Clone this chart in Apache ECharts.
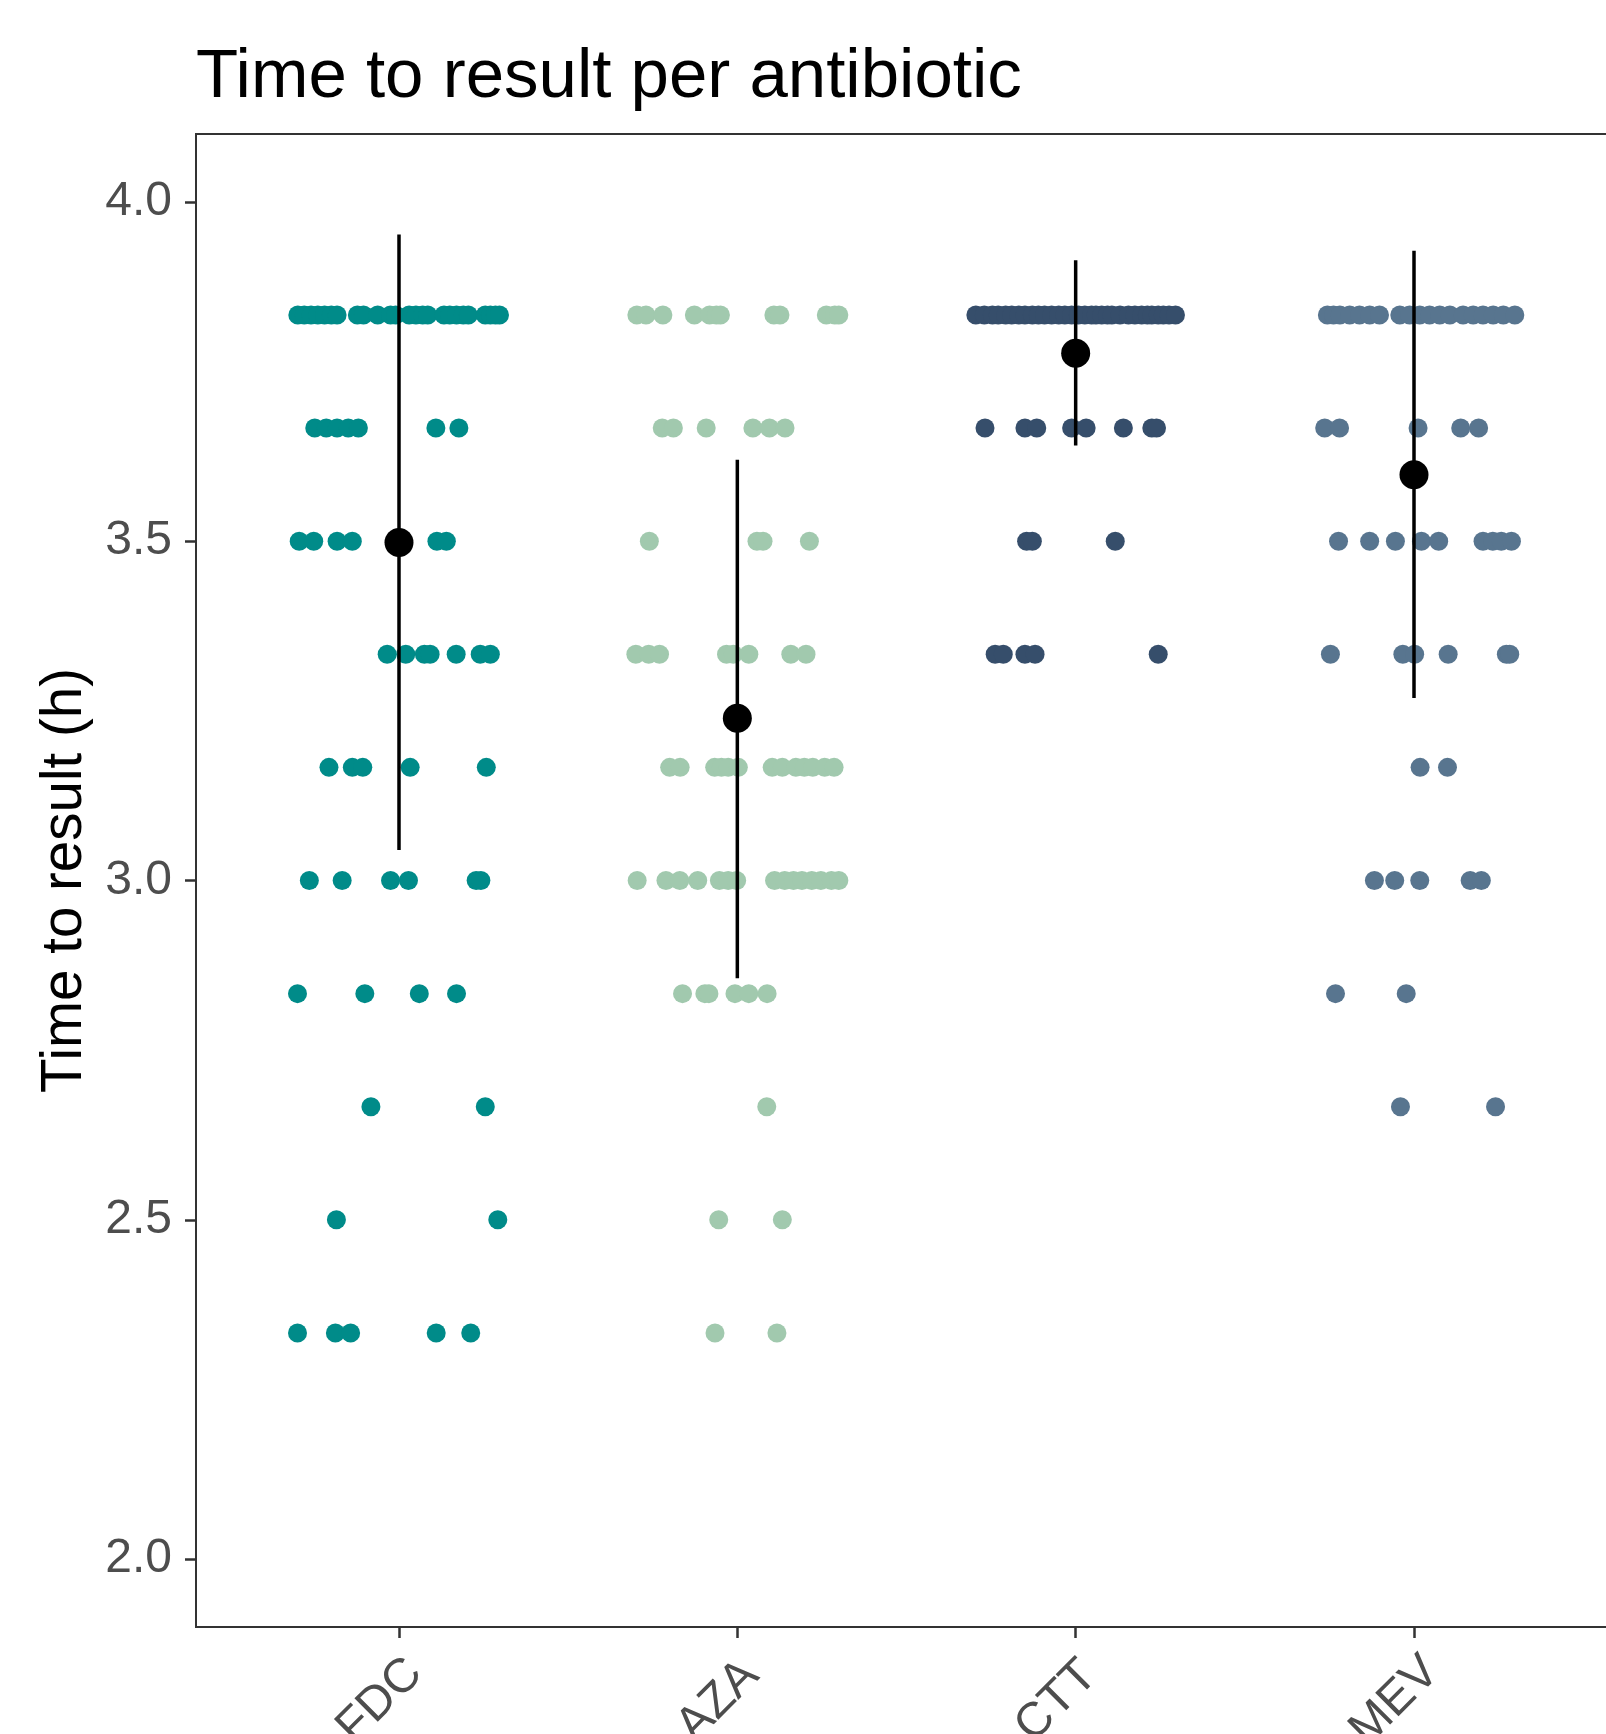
<!DOCTYPE html>
<html><head><meta charset="utf-8">
<script src="https://cdn.jsdelivr.net/npm/echarts@6/dist/echarts.min.js"></script>
<style>html,body{margin:0;padding:0;background:#fff}#c{width:1606px;height:1734px}</style>
</head><body><div id="c"></div><script>
const categories = ['FDC', 'AZA', 'CTT', 'MEV'];
const groupColors = ['#008B89', '#A1C9AE', '#364E6B', '#58758F'];
const levels = [3.8333, 3.6667, 3.5, 3.3333, 3.1667, 3.0, 2.8333, 2.6667, 2.5, 2.3333];
const yTicks = [2.0, 2.5, 3.0, 3.5, 4.0];

// jitter offsets (category units) of each point, one list per level above
const fdcJitter = [
  [-0.299, -0.28, -0.26, -0.24, -0.22, -0.2, -0.183, -0.123, -0.105, -0.063, -0.025, -0.01, 0.03, 0.05, 0.07, 0.085, 0.133, 0.15, 0.17, 0.19, 0.205, 0.255, 0.27, 0.285, 0.297],
  [-0.249, -0.215, -0.183, -0.15, -0.12, 0.109, 0.177],
  [-0.295, -0.252, -0.183, -0.138, 0.112, 0.14],
  [-0.035, 0.02, 0.075, 0.092, 0.169, 0.24, 0.27],
  [-0.207, -0.138, -0.107, 0.033, 0.258],
  [-0.265, -0.168, -0.025, 0.028, 0.228, 0.242],
  [-0.3, -0.101, 0.06, 0.17],
  [-0.083, 0.255],
  [-0.185, 0.292],
  [-0.3, -0.188, -0.143, 0.11, 0.212]
];
const azaJitter = [
  [-0.297, -0.27, -0.22, -0.127, -0.082, -0.062, -0.05, 0.108, 0.126, 0.263, 0.288, 0.3],
  [-0.222, -0.189, -0.092, 0.046, 0.095, 0.141],
  [-0.26, 0.058, 0.076, 0.213],
  [-0.3, -0.262, -0.23, -0.032, -0.012, 0.034, 0.158, 0.203],
  [-0.2, -0.169, -0.067, -0.047, -0.027, 0.003, 0.103, 0.133, 0.173, 0.198, 0.223, 0.258, 0.286],
  [-0.296, -0.211, -0.17, -0.117, -0.053, -0.027, -0.002, 0.11, 0.14, 0.166, 0.191, 0.22, 0.247, 0.278, 0.3],
  [-0.162, -0.096, -0.084, -0.007, 0.034, 0.088],
  [0.087],
  [-0.055, 0.133],
  [-0.066, 0.117]
];
const cttJitter = [
  [-0.295, -0.27, -0.246, -0.229, -0.207, -0.189, -0.168, -0.15, -0.128, -0.11, -0.092, -0.071, -0.05, -0.032, -0.012, 0.008, 0.027, 0.047, 0.06, 0.077, 0.094, 0.107, 0.131, 0.156, 0.175, 0.195, 0.212, 0.225, 0.244, 0.259, 0.276, 0.295],
  [-0.268, -0.15, -0.115, -0.012, 0.031, 0.141, 0.225, 0.239],
  [-0.145, -0.128, 0.117],
  [-0.238, -0.214, -0.15, -0.12, 0.244],
  [], [], [], [], [], []
];
const mevJitter = [
  [-0.256, -0.238, -0.219, -0.19, -0.161, -0.131, -0.102, -0.042, -0.013, 0.017, 0.046, 0.076, 0.106, 0.145, 0.175, 0.204, 0.234, 0.264, 0.298],
  [-0.264, -0.22, 0.012, 0.138, 0.191],
  [-0.223, -0.131, -0.055, 0.022, 0.073, 0.204, 0.233, 0.258, 0.288],
  [-0.247, -0.033, 0.002, 0.101, 0.273, 0.283],
  [0.018, 0.099],
  [-0.117, -0.057, 0.017, 0.166, 0.199],
  [-0.232, -0.023],
  [-0.04, 0.241],
  [], []
];
const means = [3.498, 3.239, 3.777, 3.598];
const lows  = [3.045, 2.856, 3.641, 3.269];
const highs = [3.952, 3.62, 3.914, 3.928];

const FONT = "'Liberation Sans', Arial, Helvetica, sans-serif";
const jitters = [fdcJitter, azaJitter, cttJitter, mevJitter];

const pointSeries = jitters.map((rows, gi) => {
  const data = [];
  rows.forEach((offs, li) => offs.forEach(o => data.push([gi + 1 + o, levels[li]])));
  return {
    type: 'scatter', name: categories[gi], data: data, symbolSize: 19,
    itemStyle: { color: groupColors[gi], opacity: 1 }, z: 2, silent: true
  };
});

const chart = echarts.init(document.getElementById('c'), null, { renderer: 'canvas' });
chart.setOption({
  animation: false,
  backgroundColor: '#ffffff',
  title: {
    text: 'Time to result per antibiotic', left: 191, top: 38,
    textStyle: { fontFamily: FONT, fontSize: 69, fontWeight: 'normal', color: '#000', lineHeight: 69 }
  },
  grid: {
    left: 196, top: 134, width: 1421, height: 1493,
    show: true, borderColor: '#333333', borderWidth: 2, backgroundColor: 'transparent',
    containLabel: false, outerBoundsMode: 'none'
  },
  xAxis: {
    type: 'value', min: 0.4, max: 4.6,
    axisLine: { show: false },
    splitLine: { show: false },
    axisTick: { show: true, length: 11, customValues: [1, 2, 3, 4], lineStyle: { color: '#333333', width: 2.5 } },
    axisLabel: {
      customValues: [1, 2, 3, 4],
      formatter: v => categories[Math.round(v) - 1] || '',
      rotate: 45, align: 'center', verticalAlign: 'middle', margin: 55, padding: [0, 54, 0, 0],
      fontFamily: FONT, fontSize: 48, color: '#4D4D4D'
    }
  },
  yAxis: {
    type: 'value', min: 1.9, max: 4.1,
    name: 'Time to result (h)', nameLocation: 'middle', nameGap: 101, nameRotate: 90,
    nameTextStyle: { fontFamily: FONT, fontSize: 56.5, color: '#000' },
    axisLine: { show: false },
    splitLine: { show: false },
    axisTick: { show: true, length: 11, customValues: yTicks, lineStyle: { color: '#333333', width: 2.5 } },
    axisLabel: {
      customValues: yTicks,
      formatter: v => Number(v).toFixed(1),
      margin: 24, fontFamily: FONT, fontSize: 48, color: '#4D4D4D'
    }
  },
  series: pointSeries.concat([
    {
      type: 'custom', name: 'range', z: 5, silent: true,
      data: categories.map((c, i) => [i + 1, lows[i], highs[i]]),
      encode: { x: 0, y: [1, 2] },
      renderItem: (params, api) => {
        const p1 = api.coord([api.value(0), api.value(1)]);
        const p2 = api.coord([api.value(0), api.value(2)]);
        return { type: 'line', shape: { x1: p1[0], y1: p1[1], x2: p2[0], y2: p2[1] }, style: { stroke: '#000', lineWidth: 3.5 } };
      }
    },
    {
      type: 'scatter', name: 'mean', z: 6, silent: true, symbolSize: 29,
      itemStyle: { color: '#000', opacity: 1 },
      data: categories.map((c, i) => [i + 1, means[i]])
    }
  ])
});
</script></body></html>
